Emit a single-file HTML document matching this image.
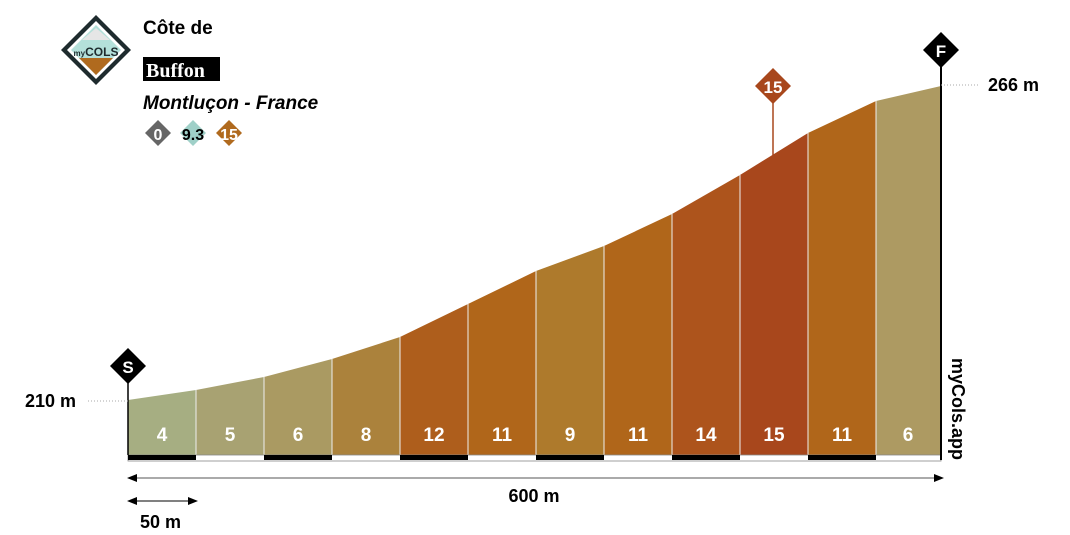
<!DOCTYPE html>
<html><head><meta charset="utf-8"><style>
body{margin:0;background:#fff;}
svg{display:block;font-family:"Liberation Sans",sans-serif;font-weight:bold;}
</style></head><body>
<svg width="1070" height="535" viewBox="0 0 1070 535" xmlns="http://www.w3.org/2000/svg">
<polygon points="128,400 196,390 196,455 128,455" fill="#a6ae82"/>
<polygon points="196,390 264,377 264,455 196,455" fill="#a8a272"/>
<polygon points="264,377 332,359 332,455 264,455" fill="#aa9a62"/>
<polygon points="332,359 400,337 400,455 332,455" fill="#ab823c"/>
<polygon points="400,337 468,304 468,455 400,455" fill="#ae5e1c"/>
<polygon points="468,304 536,271 536,455 468,455" fill="#b0661a"/>
<polygon points="536,271 604,246 604,455 536,455" fill="#ae7a2c"/>
<polygon points="604,246 672,214 672,455 604,455" fill="#b0661a"/>
<polygon points="672,214 740,175 740,455 672,455" fill="#ad541c"/>
<polygon points="740,175 808,133 808,455 740,455" fill="#a8471c"/>
<polygon points="808,133 876,101 876,455 808,455" fill="#b0661a"/>
<polygon points="876,101 941,86 941,455 876,455" fill="#ad9a62"/>
<g stroke="#eee" stroke-width="1">
<line x1="196" y1="390" x2="196" y2="455"/><line x1="264" y1="377" x2="264" y2="455"/><line x1="332" y1="359" x2="332" y2="455"/><line x1="400" y1="337" x2="400" y2="455"/><line x1="468" y1="304" x2="468" y2="455"/><line x1="536" y1="271" x2="536" y2="455"/><line x1="604" y1="246" x2="604" y2="455"/><line x1="672" y1="214" x2="672" y2="455"/><line x1="740" y1="175" x2="740" y2="455"/><line x1="808" y1="133" x2="808" y2="455"/><line x1="876" y1="101" x2="876" y2="455"/>
</g>
<g fill="#fff" font-size="19" text-anchor="middle">
<text x="162" y="441">4</text><text x="230" y="441">5</text><text x="298" y="441">6</text><text x="366" y="441">8</text><text x="434" y="441">12</text><text x="502" y="441">11</text><text x="570" y="441">9</text><text x="638" y="441">11</text><text x="706" y="441">14</text><text x="774" y="441">15</text><text x="842" y="441">11</text><text x="908" y="441">6</text>
</g>
<rect x="128" y="455" width="813" height="6" fill="#fff" stroke="#888" stroke-width="0.8"/>
<g fill="#000"><rect x="128" y="455" width="68" height="5"/><rect x="264" y="455" width="68" height="5"/><rect x="400" y="455" width="68" height="5"/><rect x="536" y="455" width="68" height="5"/><rect x="672" y="455" width="68" height="5"/><rect x="808" y="455" width="68" height="5"/></g>
<line x1="128" y1="370" x2="128" y2="455" stroke="#000" stroke-width="1.5"/>
<line x1="941" y1="50" x2="941" y2="460" stroke="#000" stroke-width="2"/>
<line x1="773" y1="90" x2="773" y2="155" stroke="#a8471c" stroke-width="1.5"/>
<polygon points="128,348 146,366 128,384 110,366" fill="#000"/>
<text x="128" y="373" fill="#fff" font-size="17" text-anchor="middle">S</text>
<polygon points="941,32 959,50 941,68 923,50" fill="#000"/>
<text x="941" y="57" fill="#fff" font-size="17" text-anchor="middle">F</text>
<polygon points="773,68 791,86 773,104 755,86" fill="#a8471c"/>
<text x="773" y="93" fill="#fff" font-size="17" text-anchor="middle">15</text>
<line x1="88" y1="401" x2="128" y2="401" stroke="#aaa" stroke-dasharray="1,2"/>
<line x1="941" y1="85" x2="980" y2="85" stroke="#aaa" stroke-dasharray="1,2"/>
<text x="25" y="407" font-size="18">210 m</text>
<text x="988" y="91" font-size="18">266 m</text>
<line x1="130" y1="478" x2="940" y2="478" stroke="#555" stroke-width="1"/>
<polygon points="127,478 137,474 137,482" fill="#000"/><polygon points="944,478 934,474 934,482" fill="#000"/>
<text x="534" y="502" font-size="18" text-anchor="middle">600 m</text>
<line x1="130" y1="501" x2="196" y2="501" stroke="#000" stroke-width="1"/>
<polygon points="127,501 137,497 137,505" fill="#000"/><polygon points="198,501 188,497 188,505" fill="#000"/>
<text x="140" y="528" font-size="18">50 m</text>
<text x="0" y="0" font-size="18" transform="translate(952,358) rotate(90)">myCols.app</text>
<polygon points="96,15 131,50 96,85 61,50" fill="#1e2b2e"/>
<polygon points="96,21 125,50 96,79 67,50" fill="#fff"/>
<polygon points="96,25 121,50 96,75 71,50" fill="#b4e0da"/>
<polygon points="79,58 113,58 96,75" fill="#b06a1e"/>
<polygon points="82,40 96,28 110,40" fill="#e6e6e6"/>
<text x="96" y="56" font-size="8" text-anchor="middle" fill="#1e2b2e">my<tspan font-size="12">COLS</tspan></text>
<text x="143" y="34" font-size="19">Côte de</text>
<rect x="143" y="57" width="77" height="24" fill="#000"/>
<text x="146" y="77" font-size="20" fill="#fff" font-family="Liberation Serif,serif">Buffon</text>
<text x="143" y="109" font-size="19" font-style="italic">Montluçon - France</text>
<polygon points="158,120 171,133 158,146 145,133" fill="#666"/>
<text x="158" y="140" fill="#fff" font-size="16" text-anchor="middle">0</text>
<polygon points="193,120 206,133 193,146 180,133" fill="#9fd0c8"/>
<text x="193" y="140" fill="#000" font-size="16" text-anchor="middle">9.3</text>
<polygon points="229,120 242,133 229,146 216,133" fill="#b06a1e"/>
<text x="229" y="140" fill="#fff" font-size="16" text-anchor="middle">15</text>
</svg>
</body></html>
